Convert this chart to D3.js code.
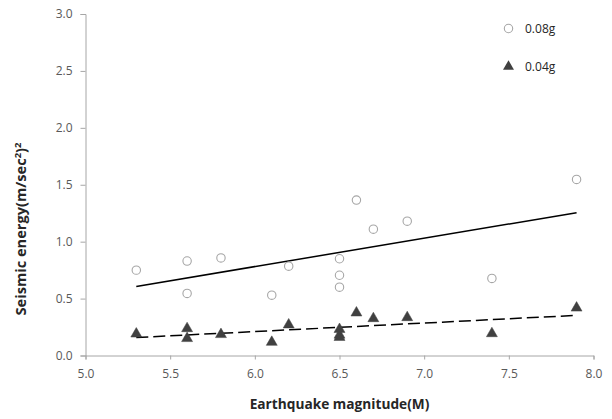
<!DOCTYPE html>
<html><head><meta charset="utf-8">
<script src="https://cdn.jsdelivr.net/npm/d3@7"></script>
<style>
body{margin:0;background:#fff;}
text{font-family:"Open Sans","Liberation Sans",sans-serif;}
</style></head>
<body><svg id="c" width="612" height="419"></svg>
<script>
const magnitude = [5.3,5.6,5.6,5.8,6.1,6.2,6.5,6.5,6.5,6.6,6.7,6.9,7.4,7.9];
const energy008 = [0.75,0.83,0.545,0.857,0.53,0.785,0.85,0.705,0.60,1.365,1.11,1.18,0.677,1.547];
const energy004 = [0.19,0.237,0.15,0.185,0.117,0.27,0.23,0.18,0.16,0.375,0.325,0.334,0.193,0.418];
const seriesNames = ["0.08g","0.04g"];
const xTicks = [5.0,5.5,6.0,6.5,7.0,7.5,8.0];
const yTicks = [0.0,0.5,1.0,1.5,2.0,2.5,3.0];

const svg = d3.select("#c");
const x = d3.scaleLinear().domain([5,8]).range([85.5,593.5]);
const y = d3.scaleLinear().domain([0,3]).range([355.5,14]);

// axes
const gx = svg.append("g").attr("transform",`translate(0,${y(0)})`)
  .call(d3.axisBottom(x).tickValues(xTicks).tickFormat(d3.format(".1f")).tickSizeOuter(0).tickSize(4).tickPadding(10));
const gy = svg.append("g").attr("transform",`translate(${x(5)},0)`)
  .call(d3.axisLeft(y).tickValues(yTicks).tickFormat(d3.format(".1f")).tickSizeOuter(0).tickSize(5).tickPadding(8));
[gx,gy].forEach(g=>{
  g.select(".domain").attr("stroke","#a6a6a6");
  g.selectAll(".tick line").attr("stroke","#a6a6a6");
  g.selectAll(".tick text").attr("fill","#595959").style("font-size","12px").style("font-family","'Open Sans','Liberation Sans',sans-serif");
});

// regression
function fit(xs,ys){
  const mx=d3.mean(xs), my=d3.mean(ys);
  let sxy=0,sxx=0;
  xs.forEach((v,i)=>{sxy+=(v-mx)*(ys[i]-my);sxx+=(v-mx)*(v-mx);});
  const b=sxy/sxx;return v=>my+b*(v-mx);
}
const xmin=d3.min(magnitude), xmax=d3.max(magnitude);
const f1=fit(magnitude,energy008), f2=fit(magnitude,energy004);
svg.append("line").attr("x1",x(xmin)).attr("y1",y(f1(xmin))).attr("x2",x(xmax)).attr("y2",y(f1(xmax)))
  .attr("stroke","#000").attr("stroke-width",1.5);
svg.append("line").attr("x1",x(xmin)).attr("y1",y(f2(xmin))).attr("x2",x(xmax)).attr("y2",y(f2(xmax)))
  .attr("stroke","#000").attr("stroke-width",1.5).attr("stroke-dasharray","12,5");

// markers
svg.append("g").selectAll("circle").data(magnitude).join("circle")
  .attr("cx",d=>x(d)).attr("cy",(d,i)=>y(energy008[i])).attr("r",4.2)
  .attr("fill","#fff").attr("stroke","#a6a6a6").attr("stroke-width",1.1);
const tri = d3.symbol().type(d3.symbolTriangle).size(52);
svg.append("g").selectAll("path").data(magnitude).join("path")
  .attr("d",tri).attr("transform",(d,i)=>`translate(${x(d)},${y(energy004[i])})`)
  .attr("fill","#404040").attr("stroke","#404040").attr("stroke-width",0.5);

// legend
const lg = svg.append("g");
lg.append("circle").attr("cx",508.5).attr("cy",28.5).attr("r",4.2).attr("fill","#fff").attr("stroke","#a6a6a6").attr("stroke-width",1.1);
lg.append("path").attr("d",tri).attr("transform","translate(508.5,66.5)").attr("fill","#404040");
lg.selectAll("text").data(seriesNames).join("text")
  .attr("x",525).attr("y",(d,i)=>33+i*38).text(d=>d)
  .attr("fill","#262626").style("font-size","12px");

// titles
svg.append("text").attr("x",339.5).attr("y",409).attr("text-anchor","middle")
  .style("font-size","13.7px").style("font-weight","bold").attr("fill","#262626").text("Earthquake magnitude(M)");
const yt = svg.append("text").attr("transform","translate(26,229) rotate(-90)").attr("text-anchor","middle")
  .style("font-size","14.6px").style("font-weight","bold").attr("fill","#262626");
yt.append("tspan").text("Seismic energy(m/sec");
yt.append("tspan").attr("dy",-5).style("font-size","9.5px").text("2");
yt.append("tspan").attr("dy",5).text(")");
yt.append("tspan").attr("dy",-5).style("font-size","9.5px").text("2");
</script></body></html>
